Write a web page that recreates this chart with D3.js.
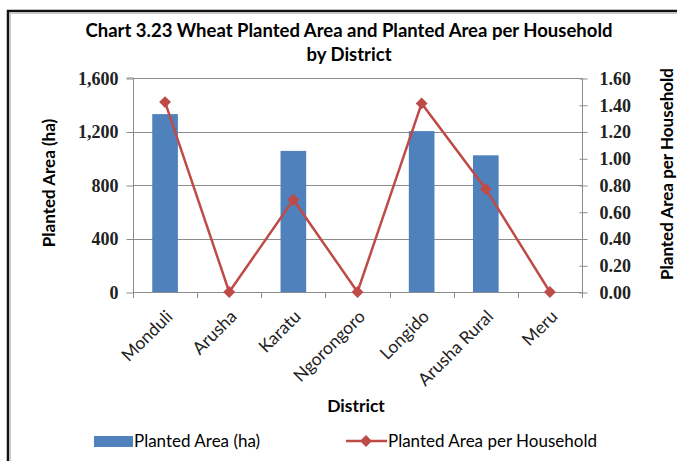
<!DOCTYPE html>
<html>
<head>
<meta charset="utf-8">
<script src="https://cdn.jsdelivr.net/npm/d3@7"></script>
<style>
  body { margin: 0; background: #fff; }
  svg { display: block; }
</style>
</head>
<body>
<svg id="chart" width="677" height="461"></svg>
<script>
// chart values
var districts = ["Monduli", "Arusha", "Karatu", "Ngorongoro", "Longido", "Arusha Rural", "Meru"];
var plantedArea = [1330, 0, 1055, 0, 1203, 1022, 0];
var areaPerHousehold = [1.42, 0, 0.69, 0, 1.41, 0.77, 0];
var leftTicks = [0, 400, 800, 1200, 1600];
var rightTicks = [0, 0.2, 0.4, 0.6, 0.8, 1.0, 1.2, 1.4, 1.6];

var barColor = "#4F81BD";
var lineColor = "#BE4B48";
var gridColor = "#8c8c8c";
var labelFont = "Lato, 'Open Sans', sans-serif";
var numFont = "'Liberation Serif', 'DejaVu Serif', serif";

document.addEventListener('DOMContentLoaded', function () {
    drawChart();
});

function drawChart() {
    var svg = d3.select('#chart');

    // outer frame, runs off right and bottom edge like the screenshot
    svg.append('rect')
        .attr('x', 8).attr('y', 11).attr('width', 720).attr('height', 520)
        .attr('fill', 'none').attr('stroke', '#111').attr('stroke-width', 2.5);
    svg.append('rect')
        .attr('x', 10.5).attr('y', 13.5).attr('width', 720).attr('height', 520)
        .attr('fill', 'none').attr('stroke', '#c8c8c8').attr('stroke-width', 1);

    var left = 133, right = 582, top = 78, bottom = 292;

    let x = d3.scaleBand().domain(districts).range([left, right]);
    let yL = d3.scaleLinear().domain([0, 1600]).range([bottom, top]);
    let yR = d3.scaleLinear().domain([0, 1.6]).range([bottom, top]);

    // title
    svg.append('text')
        .attr('x', 349).attr('y', 37)
        .attr('text-anchor', 'middle')
        .style('font-family', labelFont).style('font-weight', 'bold').style('font-size', '18.5px')
        .text('Chart 3.23 Wheat Planted Area and Planted Area per Household');
    svg.append('text')
        .attr('x', 349).attr('y', 61)
        .attr('text-anchor', 'middle')
        .style('font-family', labelFont).style('font-weight', 'bold').style('font-size', '18.5px')
        .text('by District');

    // gridlines
    svg.append('g').selectAll('line')
        .data(leftTicks)
        .enter()
        .append('line')
        .attr('x1', left).attr('x2', right)
        .attr('y1', d => Math.round(yL(d)) + 0.5)
        .attr('y2', d => Math.round(yL(d)) + 0.5)
        .style('stroke', gridColor);

    // left axis
    let axisLeft = d3.axisLeft(yL).tickValues(leftTicks).tickSize(7).tickPadding(8).tickFormat(d3.format(','));
    let gL = svg.append('g').attr('transform', 'translate(' + (left + 0.5) + ',0.5)').call(axisLeft);
    gL.selectAll('path, line').style('stroke', gridColor);
    gL.select('.domain').attr('d', 'M-7,' + (yL(1600) - 0.5) + 'H0V' + (yL(0) - 0.5));
    gL.selectAll('text')
        .style('font-family', numFont).style('font-weight', 'bold').style('font-size', '18px').style('fill', '#222');

    // right axis
    let axisRight = d3.axisRight(yR).tickValues(rightTicks).tickSize(5).tickPadding(12).tickFormat(d3.format('.2f'));
    let gR = svg.append('g').attr('transform', 'translate(' + (right + 0.5) + ',0.5)').call(axisRight);
    gR.selectAll('path, line').style('stroke', gridColor);
    gR.selectAll('.tick line').attr('x1', -3);
    gR.select('.domain').attr('d', 'M0,' + (yR(1.6) - 0.5) + 'V' + (yR(0) - 0.5));
    gR.selectAll('text')
        .style('font-family', numFont).style('font-weight', 'bold').style('font-size', '18px').style('fill', '#222');

    // bottom axis: line + boundary ticks
    var bounds = districts.map(d => x(d)).concat([right]);
    svg.append('line')
        .attr('x1', left).attr('x2', right)
        .attr('y1', bottom + 0.5).attr('y2', bottom + 0.5)
        .style('stroke', gridColor);
    svg.append('g').selectAll('line')
        .data(bounds)
        .enter()
        .append('line')
        .attr('x1', d => Math.round(d) + 0.5).attr('x2', d => Math.round(d) + 0.5)
        .attr('y1', bottom).attr('y2', bottom + 6)
        .style('stroke', gridColor);

    // category labels
    svg.append('g').selectAll('text')
        .data(districts)
        .enter()
        .append('text')
        .attr('transform', d => 'translate(' + (x(d) + x.bandwidth() / 2) + ',' + (bottom + 17) + ') rotate(-45)')
        .attr('text-anchor', 'end')
        .attr('dy', '0.7em')
        .style('font-family', labelFont).style('font-size', '17.5px').style('fill', '#222')
        .text(d => d);

    // bars
    var barW = x.bandwidth() * 0.4;
    svg.append('g').selectAll('rect')
        .data(districts)
        .enter()
        .append('rect')
        .attr('x', (d, i) => x(d) + (x.bandwidth() - barW) / 2)
        .attr('y', (d, i) => yL(plantedArea[i]))
        .attr('width', barW)
        .attr('height', (d, i) => yL(0) - yL(plantedArea[i]))
        .style('fill', barColor);

    // line + diamonds
    let line = d3.line()
        .x((d, i) => x(districts[i]) + x.bandwidth() / 2)
        .y(d => yR(d));
    svg.append('path')
        .datum(areaPerHousehold)
        .attr('d', line)
        .style('fill', 'none').style('stroke', lineColor).style('stroke-width', 2.5);

    let diamond = d3.symbol().type(d3.symbolDiamond2).size(90);
    svg.append('g').selectAll('path')
        .data(areaPerHousehold)
        .enter()
        .append('path')
        .attr('d', diamond)
        .attr('transform', (d, i) => 'translate(' + (x(districts[i]) + x.bandwidth() / 2) + ',' + yR(d) + ')')
        .style('fill', lineColor);

    // axis titles
    svg.append('text')
        .attr('transform', 'translate(55,183) rotate(-90)')
        .attr('text-anchor', 'middle')
        .style('font-family', labelFont).style('font-weight', 'bold').style('font-size', '17px')
        .text('Planted Area (ha)');
    svg.append('text')
        .attr('transform', 'translate(673,174) rotate(-90)')
        .attr('text-anchor', 'middle')
        .style('font-family', labelFont).style('font-weight', 'bold').style('font-size', '17px')
        .text('Planted Area per Household');
    svg.append('text')
        .attr('x', 356).attr('y', 412)
        .attr('text-anchor', 'middle')
        .style('font-family', labelFont).style('font-weight', 'bold').style('font-size', '17.5px')
        .text('District');

    // legend
    let lg = svg.append('g');
    lg.append('rect')
        .attr('x', 94).attr('y', 436).attr('width', 39).attr('height', 11)
        .style('fill', barColor);
    lg.append('text')
        .attr('x', 134).attr('y', 447)
        .style('font-family', labelFont).style('font-size', '17px')
        .text('Planted Area (ha)');
    lg.append('line')
        .attr('x1', 346).attr('x2', 387).attr('y1', 441).attr('y2', 441)
        .style('stroke', lineColor).style('stroke-width', 2.5);
    lg.append('path')
        .attr('d', diamond)
        .attr('transform', 'translate(366,441)')
        .style('fill', lineColor);
    lg.append('text')
        .attr('x', 388).attr('y', 447)
        .style('font-family', labelFont).style('font-size', '17px')
        .text('Planted Area per Household');
}
</script>
</body>
</html>
